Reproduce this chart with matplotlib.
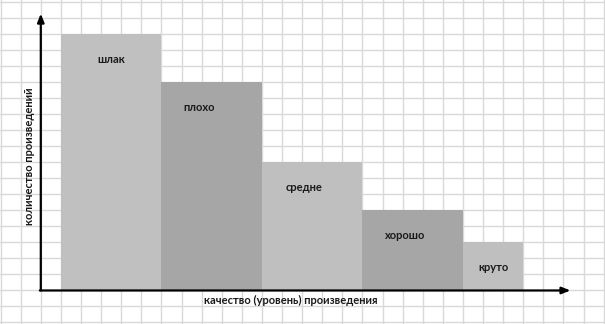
import matplotlib
matplotlib.use("Agg")
import matplotlib.pyplot as plt

categories = ["шлак", "плохо", "средне", "хорошо", "круто"]
values = [16, 13, 8, 5, 3]
widths = [5, 5, 5, 5, 3]
xlabel = "качество (уровень) произведения"
ylabel = "количество произведений"

colors = ["#c0c0c0", "#a6a6a6", "#bfbfbf", "#a6a6a6", "#bfbfbf"]

W, H = 605, 324
fig = plt.figure(figsize=(W / 100, H / 100), dpi=100)
ax = fig.add_axes([0, 0, 1, 1])
# one data unit = one grid cell (20.1 px wide, 16.02 px high)
px_x, px_y = 20.1, 16.02
x0_px, base_px = 0.6, 290.0
ax.set_xlim((0 - x0_px) / px_x, (W - x0_px) / px_x)
ax.set_ylim((base_px - H) / px_y, base_px / px_y)
ax.axis("off")

# spreadsheet grid
for k in range(0, 31):
    ax.axvline(k, color="#d9d9d9", lw=1.0, zorder=0)
for k in range(-3, 19):
    ax.axhline(k, color="#d9d9d9", lw=1.0, zorder=0)

# bars
lefts = []
pos = 3
for w in widths:
    lefts.append(pos)
    pos += w
ax.bar(lefts, values, width=widths, align="edge", color=colors, zorder=2, linewidth=0)

label_dx = [2.5, 1.9, 2.1, 2.15, 1.5]
for left, v, cat, dx in zip(lefts, values, categories, label_dx):
    ax.text(left + dx, v - 1.6, cat, ha="center", va="center", fontsize=8,
            fontweight="bold", family="Lato", color="#1a1a1a", zorder=3)

# axes arrows
ax.annotate("", xy=(2.0, 17.25), xytext=(2.0, -0.03),
            arrowprops=dict(arrowstyle="-|>,head_length=0.5,head_width=0.2", lw=1.6, color="black",
                            shrinkA=0, shrinkB=0), zorder=4)
ax.annotate("", xy=(28.35, -0.03), xytext=(1.95, -0.03),
            arrowprops=dict(arrowstyle="-|>,head_length=0.5,head_width=0.2", lw=1.6, color="black",
                            shrinkA=0, shrinkB=0), zorder=4)

ax.text((291 - x0_px) / px_x, (base_px - 300) / px_y, xlabel, ha="center", va="center",
        fontsize=8, fontweight="bold", family="Lato", color="#1a1a1a")
ax.text((30 - x0_px) / px_x, (base_px - 156) / px_y, ylabel, ha="center", va="center",
        rotation=90, fontsize=8, fontweight="bold", family="Lato", color="#1a1a1a")

fig.savefig("out.png", dpi=100)
